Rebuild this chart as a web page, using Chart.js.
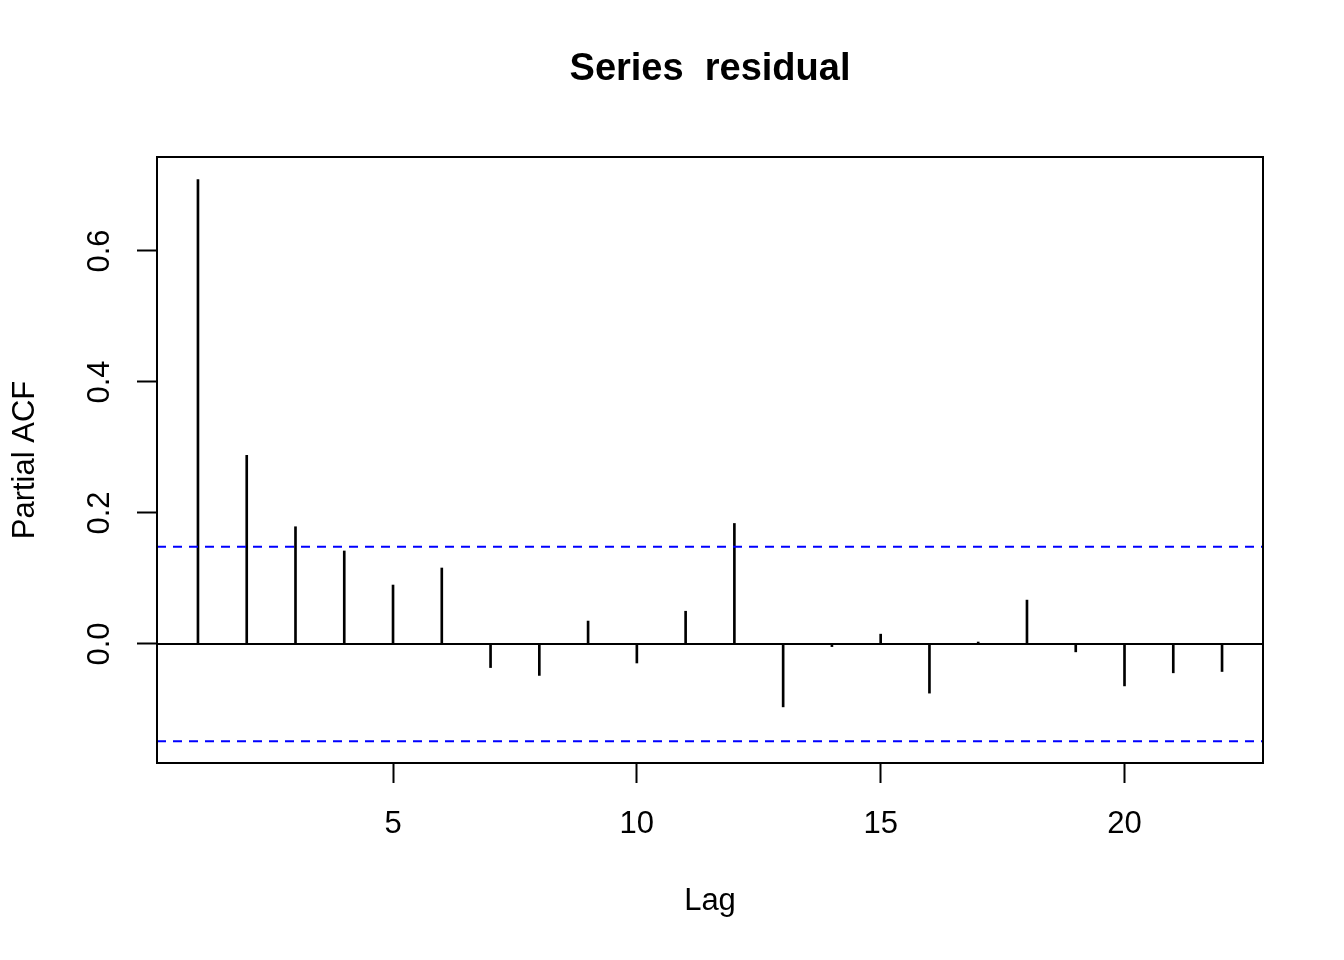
<!DOCTYPE html>
<html>
<head>
<meta charset="utf-8">
<script src="https://cdn.jsdelivr.net/npm/chart.js@4/dist/chart.umd.min.js"></script>
<style>
  html, body { margin: 0; padding: 0; background: #ffffff; }
  #wrap { width: 1344px; height: 960px; }
</style>
</head>
<body>
<div id="wrap"><canvas id="c" width="1344" height="960"></canvas></div>
<script>
// ---- data ----
const lags = [1, 2, 3, 4, 5, 6, 7, 8, 9, 10, 11, 12, 13, 14, 15, 16, 17, 18, 19, 20, 21, 22];
const pacfValues = [0.709, 0.288, 0.179, 0.142, 0.090, 0.116, -0.036, -0.048, 0.035, -0.029, 0.050, 0.184,
                    -0.096, -0.004, 0.015, -0.075, 0.003, 0.067, -0.012, -0.064, -0.044, -0.042];
const confLimit = 0.1485;
const xTicks = [5, 10, 15, 20];
const yTicks = [0.0, 0.2, 0.4, 0.6];
const xRange = [0.16, 22.84];
const yRange = [-0.1817, 0.7435];
const titleText = 'Series  residual';
const xTitle = 'Lag';
const yTitle = 'Partial ACF';

const FONT = "'Liberation Sans', Arial, sans-serif";

const boxPlugin = {
  id: 'box',
  afterDraw(chart) {
    const { ctx, chartArea: a } = chart;
    ctx.save();
    ctx.strokeStyle = '#000';
    ctx.lineWidth = 2;
    ctx.strokeRect(a.left, a.top, a.right - a.left, a.bottom - a.top);
    ctx.restore();
  }
};

new Chart(document.getElementById('c'), {
  data: {
    datasets: [
      {
        type: 'line',
        data: [{ x: xRange[0], y: 0 }, { x: xRange[1], y: 0 }],
        borderColor: '#000000',
        borderWidth: 2,
        pointRadius: 0,
        fill: false,
        order: 3
      },
      {
        type: 'bar',
        data: lags.map((l, i) => ({ x: l, y: pacfValues[i] })),
        backgroundColor: '#000000',
        borderWidth: 0,
        barThickness: 2,
        order: 2
      },
      {
        type: 'line',
        data: [{ x: xRange[0], y: confLimit }, { x: xRange[1], y: confLimit }],
        borderColor: '#0000ff',
        borderWidth: 2,
        borderDash: [9, 7],
        pointRadius: 0,
        fill: false,
        order: 1
      },
      {
        type: 'line',
        data: [{ x: xRange[0], y: -confLimit }, { x: xRange[1], y: -confLimit }],
        borderColor: '#0000ff',
        borderWidth: 2,
        borderDash: [9, 7],
        pointRadius: 0,
        fill: false,
        order: 1
      }
    ]
  },
  options: {
    responsive: false,
    animation: false,
    layout: { padding: { left: 0, right: 81, top: 0, bottom: 0 } },
    plugins: {
      legend: { display: false },
      tooltip: { enabled: false },
      title: {
        display: true,
        text: titleText,
        fullSize: false,
        color: '#000',
        font: { family: FONT, size: 38, weight: 'bold', lineHeight: 1.2 },
        padding: { top: 47, bottom: 64.4 }
      }
    },
    scales: {
      x: {
        type: 'linear',
        position: 'bottom',
        min: xRange[0],
        max: xRange[1],
        offset: false,
        afterBuildTicks: (s) => { s.ticks = xTicks.map(v => ({ value: v })); },
        afterFit: (s) => { s.height = 197; },
        grid: { offset: false, drawOnChartArea: false, drawTicks: true, tickLength: 20, tickWidth: 2, tickColor: '#000' },
        border: { display: false },
        ticks: {
          color: '#000', padding: 23, maxRotation: 0, autoSkip: false,
          font: { family: FONT, size: 31, lineHeight: 1.2 },
          callback: (v) => String(v)
        },
        title: {
          display: true, text: xTitle, color: '#000',
          font: { family: FONT, size: 31, lineHeight: 1.2 },
          padding: { top: 0, bottom: 40 }
        }
      },
      y: {
        type: 'linear',
        position: 'left',
        min: yRange[0],
        max: yRange[1],
        afterBuildTicks: (s) => { s.ticks = yTicks.map(v => ({ value: v })); },
        afterFit: (s) => { s.width = 157; },
        grid: { offset: false, drawOnChartArea: false, drawTicks: true, tickLength: 20, tickWidth: 2, tickColor: '#000' },
        border: { display: false },
        ticks: {
          color: '#000', padding: 15, minRotation: 90, maxRotation: 90, crossAlign: 'center', autoSkip: false,
          font: { family: FONT, size: 31, lineHeight: 1.2 },
          callback: (v) => Number(v).toFixed(1)
        },
        title: {
          display: true, text: yTitle, color: '#000',
          font: { family: FONT, size: 31, lineHeight: 1.2 },
          padding: { top: 6.4, bottom: 0 }
        }
      }
    }
  },
  plugins: [boxPlugin]
});
</script>
</body>
</html>
